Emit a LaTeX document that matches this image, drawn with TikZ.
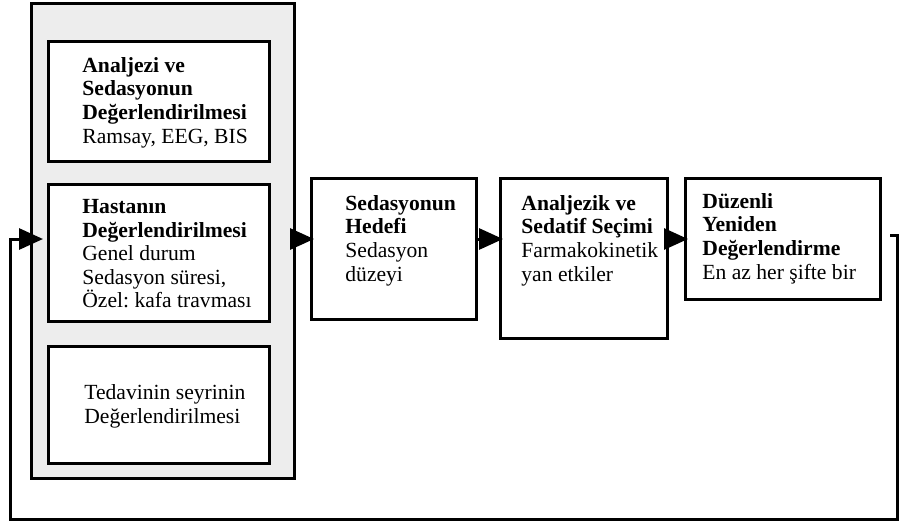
\documentclass[tikz,border=0pt]{standalone}
\usepackage{fontspec}
\setmainfont{Liberation Serif}
\usetikzlibrary{positioning}
\usetikzlibrary{arrows.meta}

\begin{document}
\begin{tikzpicture}[x=0.5pt, y=-0.5pt,
        box/.style={draw, line width=1.5pt, fill=white, inner sep=0pt},
        txt/.style={align=left, inner sep=0pt,
            font=\fontsize{10.8}{11.8}\selectfont\frenchspacing},
        arr/.style={line width=1.5pt,
            -{Triangle[length=12pt, width=10.5pt]}, shorten >=-2pt}]

        \useasboundingbox (0,0) rectangle (903,521);

        \def\d{10pt}
        \def\h{17.5pt}

        % Left group: three boxes on a dotted ground
        \node[box, fill=black!7, minimum width=131.5pt, minimum height=237.5pt,
            anchor=north west] (grp) at (30,2) {};
        \node[box, minimum width=110.5pt, minimum height=60pt] (B1)
            [below right=19pt and 8.5pt of grp.north west] {};
        \node[box, minimum width=110.5pt, minimum height=68.5pt] (B2)
            [below=\d of B1] {};
        \node[box, minimum width=110.5pt, minimum height=58.5pt] (B3)
            [below=11pt of B2] {};

        % Row of steps to the right
        \node[box, minimum width=82.5pt, minimum height=70.5pt] (SH)
            [below right=87.5pt and 7pt of grp.north east] {};
        \node[box, minimum width=83.5pt, minimum height=80pt] (AS)
            [below right=0pt and 10.5pt of SH.north east] {};
        \node[box, minimum width=97.5pt, minimum height=60.5pt] (DZ)
            [below right=0pt and 7.5pt of AS.north east] {};

        % Texts
        \node[txt] (B1t) [below right=8.5pt and \h of B1.north west]
            {\textbf{Analjezi ve}\\ \textbf{Sedasyonun}\\
             \textbf{Değerlendirilmesi}\\ Ramsay, EEG, BIS};
        \node[txt] (B2t) [below right=8pt and \h of B2.north west]
            {\textbf{Hastanın}\\ \textbf{Değerlendirilmesi}\\ Genel durum\\
             Sedasyon süresi,\\ Özel: kafa travması};
        \node[txt] (B3t) [below right=19.5pt and 18.5pt of B3.north west]
            {Tedavinin seyrinin\\ Değerlendirilmesi};
        \node[txt] (SHt) [below right=9pt and \h of SH.north west]
            {\textbf{Sedasyonun}\\ \textbf{Hedefi}\\ Sedasyon\\ düzeyi};
        \node[txt] (ASt) [below right=9pt and 11pt of AS.north west]
            {\textbf{Analjezik ve}\\ \textbf{Sedatif Seçimi}\\
             Farmakokinetik\\ yan etkiler};
        \node[txt] (DZt) [below right=8pt and 9pt of DZ.north west]
            {\textbf{Düzenli}\\ \textbf{Yeniden}\\ \textbf{Değerlendirme}\\
             En az her şifte bir};

        \coordinate (mid) at (0,239);
        \coordinate (fbR) at (897,519);
        \coordinate (fbL) at (10,519);

        \begin{scope}
            \draw[arr] (grp.east |- mid) -- (SH.west |- mid);
            \draw[arr] (SH.east |- mid) -- (AS.west |- mid);
            \draw[arr] (AS.east |- mid) -- (DZ.west |- mid);

            % back to the start
            \draw[arr, shorten >=2pt] ([xshift=4pt, yshift=1.75pt]DZ.east)
                -| (fbR) -- (fbL) |- (B2.west |- mid);
        \end{scope}

\end{tikzpicture}
\end{document}
